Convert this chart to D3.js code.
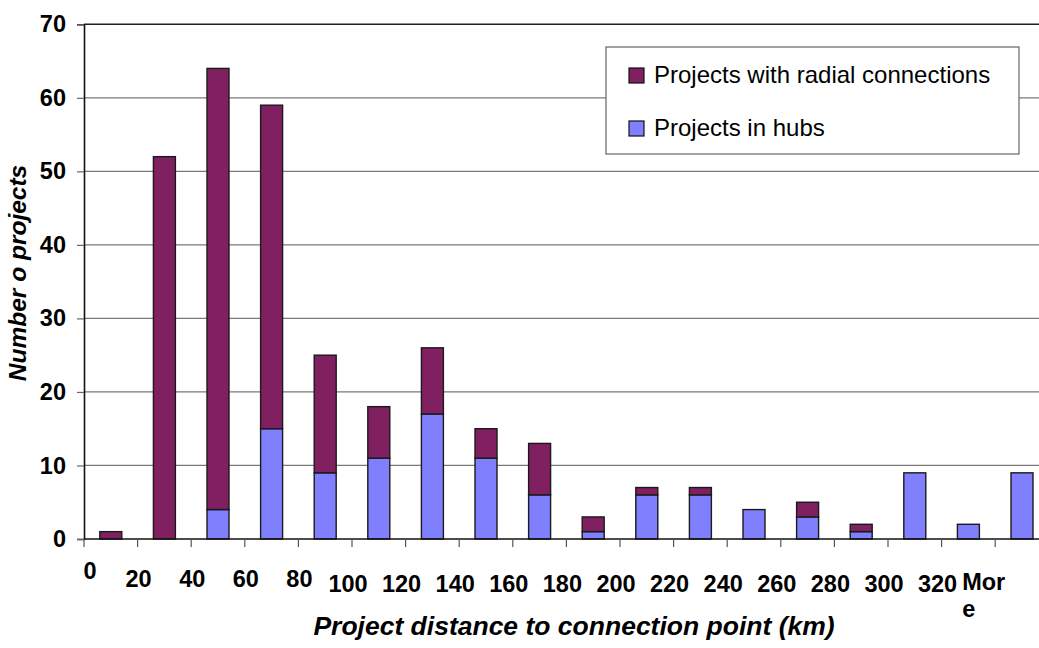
<!DOCTYPE html>
<html>
<head>
<meta charset="utf-8">
<script src="https://cdn.jsdelivr.net/npm/d3@7"></script>
<style>
  body { margin: 0; background: #fff; }
  svg { display: block; font-family: "Liberation Sans", Arial, sans-serif; }
</style>
</head>
<body>
<div class="chart"></div>
<script>
// Histogram of project distances, stacked: hubs at the bottom, radial on top
const categories = ["0", "20", "40", "60", "80", "100", "120", "140", "160", "180",
  "200", "220", "240", "260", "280", "300", "320", "More"];
const hubs =   [0, 0, 4, 15, 9, 11, 17, 11, 6, 1, 6, 6, 4, 3, 1, 9, 2, 9];
const radial = [1, 52, 60, 44, 16, 7, 9, 4, 7, 2, 1, 1, 0, 2, 1, 0, 0, 0];
const yTicks = [0, 10, 20, 30, 40, 50, 60, 70];
const seriesNames = ["Projects with radial connections", "Projects in hubs"];
const seriesColors = ["#802060", "#8080ff"];

const W = 1039, H = 648;
const plot = { left: 84, top: 24.3, bottom: 539, step: 53.6 };

const svg = d3.select(".chart")
  .append("svg")
  .attr("width", W)
  .attr("height", H);

// slots are one per bin; the last slot runs past the window edge like the original
const x = d3.scaleBand()
  .domain(categories)
  .range([plot.left, plot.left + plot.step * categories.length])
  .padding(0);

const y = d3.scaleLinear()
  .domain([0, 70])
  .range([plot.bottom, plot.top]);

const barW = x.bandwidth() * 0.41;

// gridlines
svg.append("g")
  .selectAll("line")
  .data(yTicks.filter(d => d > 0))
  .enter()
  .append("line")
  .attr("x1", plot.left)
  .attr("x2", W)
  .attr("y1", d => y(d))
  .attr("y2", d => y(d))
  .attr("stroke", d => d === 70 ? "#222" : "#7a7a7a")
  .attr("stroke-width", d => d === 70 ? 1.5 : 1.2);

// stacked bars
const data = categories.map((c, i) => ({ cat: c, hubs: hubs[i], radial: radial[i] }));

const bars = svg.append("g");
bars.selectAll(".hub")
  .data(data.filter(d => d.hubs > 0))
  .enter()
  .append("rect")
  .attr("class", "hub")
  .attr("x", d => x(d.cat) + (x.bandwidth() - barW) / 2)
  .attr("y", d => y(d.hubs))
  .attr("width", barW)
  .attr("height", d => y(0) - y(d.hubs))
  .attr("fill", seriesColors[1])
  .attr("stroke", "#1a1a1a")
  .attr("stroke-width", 1.4);

bars.selectAll(".radial")
  .data(data.filter(d => d.radial > 0))
  .enter()
  .append("rect")
  .attr("class", "radial")
  .attr("x", d => x(d.cat) + (x.bandwidth() - barW) / 2)
  .attr("y", d => y(d.hubs + d.radial))
  .attr("width", barW)
  .attr("height", d => y(d.hubs) - y(d.hubs + d.radial))
  .attr("fill", seriesColors[0])
  .attr("stroke", "#1a1a1a")
  .attr("stroke-width", 1.4);

// y axis
const yAxis = svg.append("g")
  .attr("transform", "translate(" + plot.left + ",0)")
  .call(d3.axisLeft(y).tickValues(yTicks).tickSize(7).tickPadding(11));
yAxis.select(".domain").attr("stroke", "#111").attr("stroke-width", 1.6);
yAxis.selectAll(".tick line").attr("stroke", "#666").attr("stroke-width", 1.2);
yAxis.selectAll(".tick text")
  .attr("font-size", 23.5)
  .attr("font-weight", "bold")
  .attr("font-family", "'Liberation Sans', Arial, sans-serif")
  .attr("fill", "#000");

// x axis line and tick marks at bin boundaries
svg.append("line")
  .attr("x1", plot.left)
  .attr("x2", W)
  .attr("y1", y(0))
  .attr("y2", y(0))
  .attr("stroke", "#111")
  .attr("stroke-width", 1.6);

svg.append("g")
  .selectAll("line")
  .data(categories)
  .enter()
  .append("line")
  .attr("x1", d => x(d))
  .attr("x2", d => x(d))
  .attr("y1", y(0))
  .attr("y2", y(0) + 8)
  .attr("stroke", "#555")
  .attr("stroke-width", 1.2);

// x tick labels, staggered the way the original renders them
function labelY(i) {
  if (i === 0) return 579;
  if (i < 5) return 587;
  return 592;
}
const xLabels = svg.append("g")
  .attr("font-size", 23.5)
  .attr("font-weight", "bold")
  .attr("fill", "#000");

xLabels.selectAll("text")
  .data(categories.slice(0, categories.length - 1))
  .enter()
  .append("text")
  .attr("x", (d, i) => i === 0 ? x(d) + 6 : x(d) + (i < 5 ? 1 : -4))
  .attr("y", (d, i) => labelY(i))
  .attr("text-anchor", "middle")
  .text(d => d);

const moreLabel = xLabels.append("text")
  .attr("x", x("More") - 33)
  .attr("y", 590);
moreLabel.append("tspan").text("Mor");
moreLabel.append("tspan")
  .attr("x", x("More") - 33)
  .attr("dy", 27)
  .text("e");

// axis titles
svg.append("text")
  .attr("x", 574)
  .attr("y", 635)
  .attr("text-anchor", "middle")
  .attr("font-size", 26.5)
  .attr("font-weight", "bold")
  .attr("font-style", "italic")
  .text("Project distance to connection point (km)");

svg.append("text")
  .attr("transform", "translate(26,273) rotate(-90)")
  .attr("text-anchor", "middle")
  .attr("font-size", 24.5)
  .attr("font-weight", "bold")
  .attr("font-style", "italic")
  .text("Number o projects");

// legend
const legend = svg.append("g").attr("transform", "translate(606,47)");
legend.append("rect")
  .attr("width", 413)
  .attr("height", 107)
  .attr("fill", "#fff")
  .attr("stroke", "#666")
  .attr("stroke-width", 1.2);

const items = legend.selectAll(".item")
  .data(seriesNames)
  .enter()
  .append("g")
  .attr("class", "item")
  .attr("transform", (d, i) => "translate(23," + (21 + i * 53) + ")");

items.append("rect")
  .attr("width", 15)
  .attr("height", 15)
  .attr("fill", (d, i) => seriesColors[i])
  .attr("stroke", "#111")
  .attr("stroke-width", 1.2);

items.append("text")
  .attr("x", 25)
  .attr("y", 15)
  .attr("font-size", 24)
  .attr("fill", "#000")
  .text(d => d);
</script>
</body>
</html>
